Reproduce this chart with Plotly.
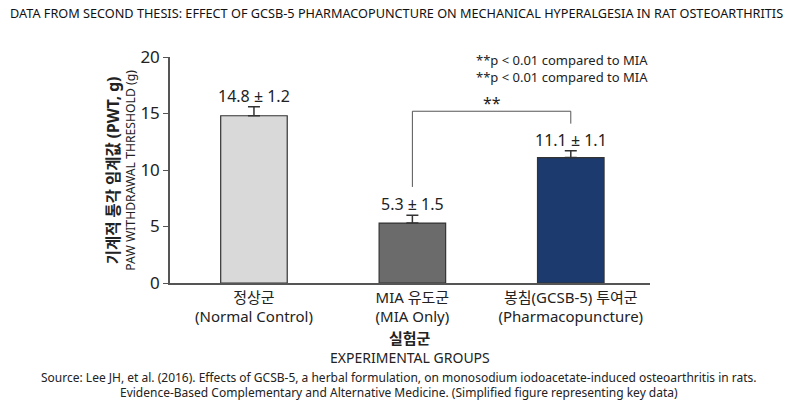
import plotly.graph_objects as go

# data
groups_ko = ["정상군", "MIA 유도군", "봉침(GCSB-5) 투여군"]
groups_en = ["(Normal Control)", "(MIA Only)", "(Pharmacopuncture)"]
pwt_mean = [14.8, 5.3, 11.1]
pwt_sd_text = ["1.2", "1.5", "1.1"]
err_drawn = [0.8, 0.7, 0.6]
bar_colors = ["#d9d9d9", "#6b6b6b", "#1d3a6e"]

# significance bracket between MIA and GCSB-5
bracket_pair = [1, 2]
bracket_top = 15.2
bracket_feet = [8.5, 14.1]

FONT = "Noto Sans, Noto Sans CJK KR, sans-serif"
x_idx = list(range(len(pwt_mean)))

fig = go.Figure()
fig.add_trace(go.Bar(
    x=x_idx,
    y=pwt_mean,
    width=0.42,
    marker=dict(color=bar_colors, line=dict(color="#333", width=1.2)),
    error_y=dict(type="data", symmetric=False, array=err_drawn,
                 arrayminus=[0] * len(err_drawn),
                 color="#333", thickness=1.5, width=6),
    hoverinfo="skip",
))

# mean ± sd labels
for i, (m, sd, e) in enumerate(zip(pwt_mean, pwt_sd_text, err_drawn)):
    fig.add_annotation(x=i, y=m + e, yshift=-2, text=f"{m} ± {sd}",
                       showarrow=False, yanchor="bottom",
                       font=dict(size=16, color="#222"))

# bracket
x0, x1 = bracket_pair
fig.add_shape(type="path", xref="x", yref="y",
              path=f"M {x0} {bracket_feet[0]} L {x0} {bracket_top} "
                   f"L {x1} {bracket_top} L {x1} {bracket_feet[1]}",
              line=dict(color="#555", width=1))
fig.add_annotation(x=(x0 + x1) / 2, y=bracket_top, yshift=-5, text="**",
                   showarrow=False, yanchor="bottom",
                   font=dict(size=16, color="#222"))

fig.add_annotation(xref="paper", yref="paper", x=1.0, y=1.035,
                   xanchor="right", yanchor="top", align="left",
                   text="**p < 0.01 compared to MIA<br>**p < 0.01 compared to MIA",
                   showarrow=False, font=dict(size=13, color="#222"))

# y-axis titles
fig.add_annotation(xref="paper", yref="paper", x=-0.118, y=0.5, textangle=-90,
                   xanchor="center", yanchor="middle",
                   text="<b>기계적 통각 임계값 (PWT, g)</b>", showarrow=False,
                   font=dict(size=15.5, color="#222"))
fig.add_annotation(xref="paper", yref="paper", x=-0.084, y=0.5, textangle=-90,
                   xanchor="center", yanchor="middle",
                   text="PAW WITHDRAWAL THRESHOLD (g)", showarrow=False,
                   font=dict(size=12.2, color="#222"))

# x-axis title
fig.add_annotation(xref="paper", yref="paper", x=0.5, y=-0.245,
                   yanchor="middle", text="<b>실험군</b>", showarrow=False,
                   font=dict(size=15, color="#222"))
fig.add_annotation(xref="paper", yref="paper", x=0.5, y=-0.33,
                   yanchor="middle", text="EXPERIMENTAL GROUPS", showarrow=False,
                   font=dict(size=14, color="#222"))

# source
src_lines = [
    "Source: Lee JH, et al. (2016). Effects of GCSB-5, a herbal formulation, on monosodium iodoacetate-induced osteoarthritis in rats.",
    "Evidence-Based Complementary and Alternative Medicine. (Simplified figure representing key data)",
]
for k, line in enumerate(src_lines):
    fig.add_annotation(xref="paper", yref="paper", x=0.477,
                       y=-0.418 - k * 0.068, yanchor="middle", text=line,
                       showarrow=False, font=dict(size=12, color="#222"))

# the page body has an 8px margin, so the layout is laid out 8px up/left
fig.update_layout(
    width=800, height=400,
    margin=dict(l=162, r=158, t=49, b=125),
    paper_bgcolor="white", plot_bgcolor="white",
    font=dict(family=FONT, color="#222"),
    showlegend=False,
    title=dict(text="DATA FROM SECOND THESIS: EFFECT OF GCSB-5 PHARMACOPUNCTURE ON MECHANICAL HYPERALGESIA IN RAT OSTEOARTHRITIS",
               x=2 / 800, xanchor="left", y=1 - 5.5 / 400, yanchor="middle",
               font=dict(size=12.7, color="#111")),
    xaxis=dict(range=[-0.53, 2.5], tickvals=x_idx,
               ticktext=[f"{k}<br>{e}" for k, e in zip(groups_ko, groups_en)],
               showline=True, linecolor="#555", linewidth=1.5, ticks="",
               showgrid=False, zeroline=False,
               tickfont=dict(size=15, color="#222")),
    yaxis=dict(range=[0, 20], tickvals=[0, 5, 10, 15, 20],
               showline=True, linecolor="#555", linewidth=1.5,
               ticks="outside", ticklen=5, tickcolor="#555",
               showgrid=False, zeroline=False,
               tickfont=dict(size=17, color="#222")),
)

fig.write_html("out.html")
